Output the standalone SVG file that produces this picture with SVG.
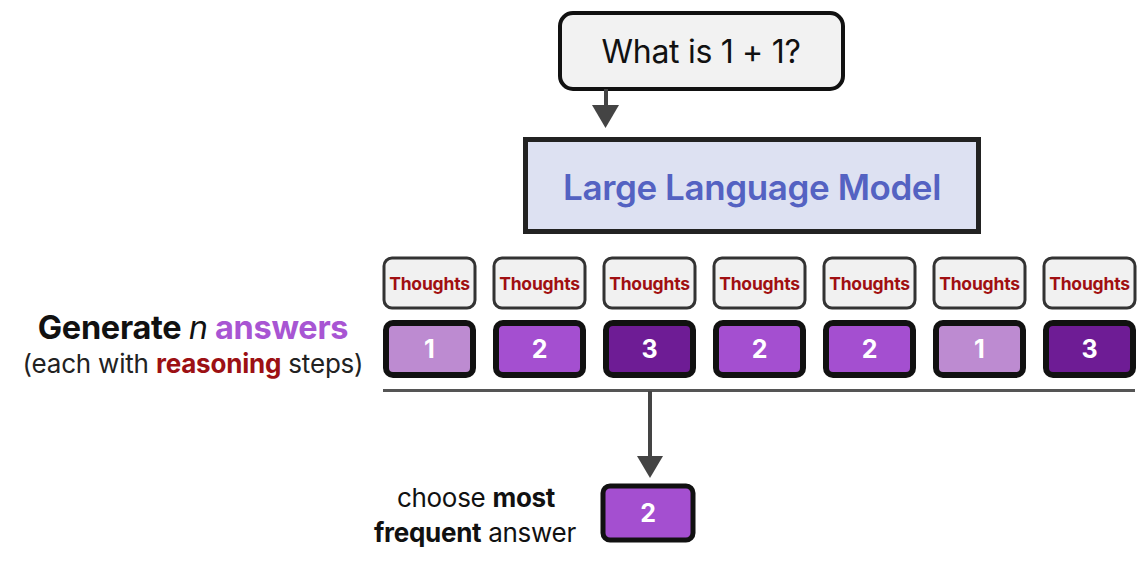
<svg xmlns="http://www.w3.org/2000/svg" width="1146" height="568" viewBox="0 0 1146 568">
<style>
text{font-family:Inter,"Liberation Sans",sans-serif}
.th rect{fill:#f1f1f1;stroke:#333;stroke-width:3}
.th text{fill:#a00f12;font-weight:700;font-size:17.5px;text-anchor:middle;letter-spacing:-0.2px}
.ans rect{stroke:#111;stroke-width:6}
.ans text{fill:#fff;font-weight:700;font-size:25px;text-anchor:middle}
.c1{fill:#bd8bd1}.c2{fill:#a44fd0}.c3{fill:#6e1c95}
.conn{stroke:#444;stroke-width:4;fill:none}
</style>
<rect width="1146" height="568" fill="#fff"/>
<g id="question">
<rect x="560" y="13" width="283" height="76" rx="13" fill="#f2f2f2" stroke="#111" stroke-width="4"/>
<text x="701" y="63" font-size="32" text-anchor="middle" fill="#111" letter-spacing="-0.3">What is 1 + 1?</text>
</g>
<g id="llm">
<rect x="525.5" y="139.5" width="453" height="92" fill="#dde1f2" stroke="#222" stroke-width="5"/>
<text x="752" y="200" font-size="35" font-weight="600" text-anchor="middle" fill="#5462c2" letter-spacing="-0.4">Large Language Model</text>
</g>
<g id="thoughts" class="th">
<g id="t1"><rect x="384" y="258" width="91" height="50" rx="8"/><text x="429.5" y="290">Thoughts</text></g>
<g id="t2"><rect x="494" y="258" width="91" height="50" rx="8"/><text x="539.5" y="290">Thoughts</text></g>
<g id="t3"><rect x="604" y="258" width="91" height="50" rx="8"/><text x="649.5" y="290">Thoughts</text></g>
<g id="t4"><rect x="714" y="258" width="91" height="50" rx="8"/><text x="759.5" y="290">Thoughts</text></g>
<g id="t5"><rect x="824" y="258" width="91" height="50" rx="8"/><text x="869.5" y="290">Thoughts</text></g>
<g id="t6"><rect x="934" y="258" width="91" height="50" rx="8"/><text x="979.5" y="290">Thoughts</text></g>
<g id="t7"><rect x="1044" y="258" width="91" height="50" rx="8"/><text x="1089.5" y="290">Thoughts</text></g>
</g>
<g id="answers" class="ans">
<g id="a1"><rect class="c1" x="386" y="323" width="87" height="52" rx="7"/><text x="429.5" y="358">1</text></g>
<g id="a2"><rect class="c2" x="496" y="323" width="87" height="52" rx="7"/><text x="539.5" y="358">2</text></g>
<g id="a3"><rect class="c3" x="606" y="323" width="87" height="52" rx="7"/><text x="649.5" y="358">3</text></g>
<g id="a4"><rect class="c2" x="716" y="323" width="87" height="52" rx="7"/><text x="759.5" y="358">2</text></g>
<g id="a5"><rect class="c2" x="826" y="323" width="87" height="52" rx="7"/><text x="869.5" y="358">2</text></g>
<g id="a6"><rect class="c1" x="936" y="323" width="87" height="52" rx="7"/><text x="979.5" y="358">1</text></g>
<g id="a7"><rect class="c3" x="1046" y="323" width="87" height="52" rx="7"/><text x="1089.5" y="358">3</text></g>
</g>
<g id="final" class="ans">
<rect class="c2" x="603" y="486" width="90" height="54" rx="7" style="stroke-width:5"/>
<text x="648" y="522">2</text>
</g>
<g id="connectors">
<line class="conn" x1="606" y1="89" x2="606" y2="108"/>
<polygon points="592,105 619,105 605.5,128" fill="#444"/>
<line x1="383" y1="390.5" x2="1135" y2="390.5" stroke="#555" stroke-width="3"/>
<line class="conn" x1="650" y1="391" x2="650" y2="458"/>
<polygon points="637,456 663,456 650,478" fill="#444"/>
</g>
<g id="labels">
<text x="193" y="339" font-size="32.5" text-anchor="middle" letter-spacing="-0.3"><tspan font-weight="700" fill="#111">Generate </tspan><tspan font-style="italic" fill="#111">n</tspan><tspan font-weight="700" fill="#a855d3"> answers</tspan></text>
<text x="193" y="373" font-size="26" text-anchor="middle" fill="#222" letter-spacing="-0.2">(each with <tspan font-weight="700" fill="#9c1014">reasoning</tspan> steps)</text>
<text x="476" y="507" font-size="26" text-anchor="middle" fill="#111" letter-spacing="-0.3">choose <tspan font-weight="700">most</tspan></text>
<text x="475" y="542" font-size="26" text-anchor="middle" fill="#111" letter-spacing="-0.3"><tspan font-weight="700">frequent</tspan> answer</text>
</g>
</svg>
